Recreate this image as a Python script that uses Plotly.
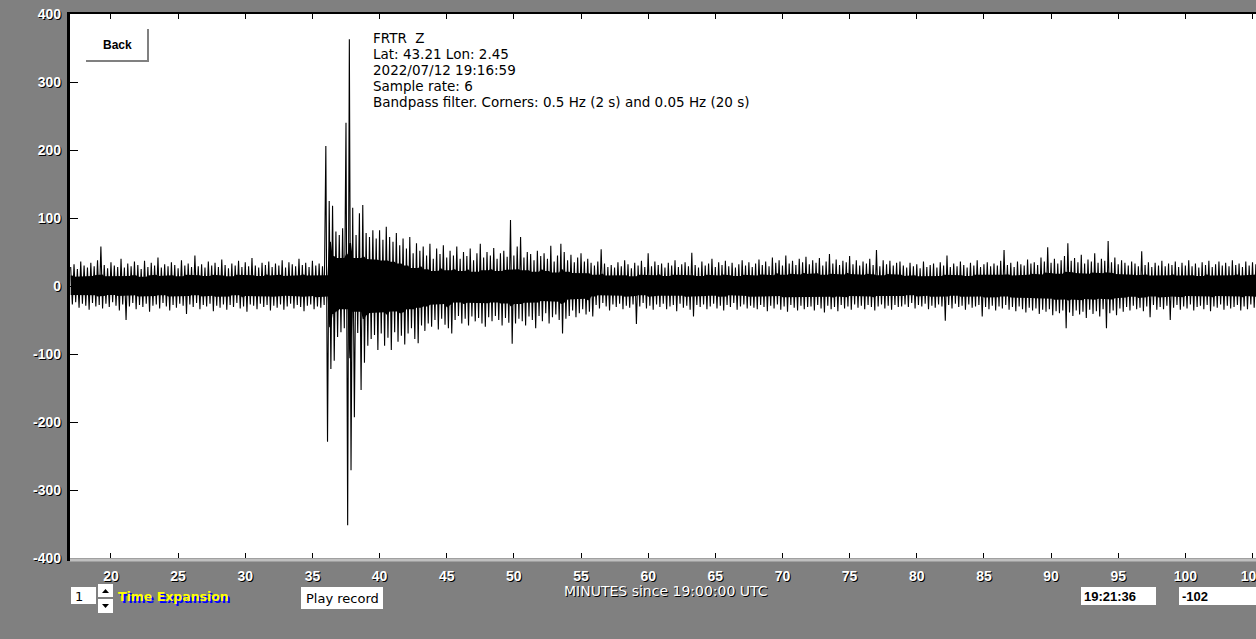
import plotly.graph_objects as go

# ---------------- data ----------------
start_minute = 17.0      # first sample window (minutes since 19:00:00 UTC)
window = 0.25            # width of each envelope window, minutes

# upper / lower extremes of the trace in each 0.25-minute window
peaks_pre = [28, 32, 25, 36, 30, 27, 34, 29, 38, 58, 31, 26, 35, 30, 28, 40, 27, 33, 29, 36,
             31, 25, 37, 28, 34, 30, 42, 27, 32, 29, 35, 31, 26, 38, 30, 33, 28, 45, 29, 32,
             27, 36, 30, 34, 28, 39, 31, 26, 33, 30, 37, 28, 35, 29, 41, 30, 27, 34, 31, 36,
             28, 33, 30, 38, 27, 35, 32, 29, 40, 31, 34, 28, 37, 30, 33, 29]
troughs_pre = [-27, -24, -32, -26, -29, -35, -25, -30, -28, -33, -26, -31, -24, -29, -36, -27, -50, -30, -25, -34,
               -28, -31, -26, -38, -29, -27, -33, -25, -30, -36, -28, -32, -26, -29, -41, -27, -31, -25, -34, -28,
               -30, -26, -37, -29, -32, -27, -35, -28, -31, -25, -33, -30, -38, -27, -29, -34, -26, -31, -28, -36,
               -29, -32, -27, -35, -30, -26, -33, -28, -31, -37, -29, -27, -34, -30, -32, -28]

peaks_event = [206, 125, 118, 80, 75, 85, 240, 363, 115, 75, 107, 119, 78, 72, 82, 70]
troughs_event = [-229, -122, -110, -75, -68, -62, -352, -271, -193, -69, -153, -113, -88, -78, -72, -94]

peaks_coda = [82, 68, 87, 72, 65, 78, 60, 70, 55, 72, 48, 63, 52, 58, 45, 62, 40, 55, 47, 60,
              42, 52, 45, 58, 40, 50, 44, 55, 38, 48, 62, 42, 50, 45, 56, 40, 48, 52, 43, 97]
troughs_coda = [-70, -88, -76, -94, -68, -82, -73, -86, -70, -62, -78, -84, -58, -66, -55, -60, -50, -64, -48, -57,
                -62, -70, -50, -44, -55, -48, -58, -45, -52, -47, -55, -60, -46, -52, -44, -50, -58, -47, -54, -85]

peaks_tail = [45, 58, 72, 42, 50, 47, 38, 52, 44, 48, 40, 59, 36, 45, 62, 50, 38, 46, 35, 42, 48, 36, 40, 34]
troughs_tail = [-55, -48, -52, -58, -45, -50, -62, -44, -52, -40, -55, -46, -42, -50, -70, -48, -44, -36, -46, -40,
                -34, -42, -38, -45]

peaks_mid = [30, 36, 54, 33, 28, 31, 27, 35, 29, 38, 32, 26, 34, 30, 37, 28,
             48, 29, 36, 31, 33, 27, 34, 30, 38, 28, 32, 35, 29, 49, 31, 27,
             36, 30, 33, 40, 28, 35, 31, 37, 29, 34, 27, 32, 38, 30, 35, 28,
             33, 39, 31, 36, 29, 42, 34, 38, 30, 45, 33, 37, 31, 40, 35, 43,
             32, 38, 34, 41, 30, 36, 47, 33, 39, 31, 37, 35, 44, 32, 38, 30,
             36, 33, 40, 31, 53, 29, 38, 32, 37, 30, 34, 36]
troughs_mid = [-28, -33, -25, -30, -36, -27, -31, -26, -34, -29, -32, -27, -56, -30, -25, -33,
               -29, -35, -27, -31, -26, -34, -30, -28, -37, -26, -32, -29, -35, -45, -28, -31,
               -27, -34, -30, -26, -33, -29, -36, -28, -31, -25, -35, -30, -27, -33, -29, -32,
               -34, -28, -31, -37, -29, -33, -27, -35, -30, -38, -28, -32, -36, -29, -34, -31,
               -30, -36, -28, -33, -39, -29, -34, -31, -37, -28, -33, -30, -35, -27, -32, -29,
               -34, -28, -31, -36, -30, -27, -33, -29, -35, -28, -31, -30]

peaks_late = [30, 27, 34, 29, 32, 26, 36, 28, 31, 33, 27, 35, 30, 45, 28, 33,
              29, 36, 31, 27, 34, 30, 38, 28, 32, 35, 29, 33, 30, 37, 53, 31,
              34, 28, 36, 32, 30, 39, 33, 35, 31, 42, 36, 57, 34, 40, 33, 38,
              44, 63, 37, 41, 35, 46, 33, 39, 36, 48, 34, 40, 37, 66, 35, 42,
              32, 38, 34, 30, 36, 33, 29, 51, 31, 35, 28, 34, 30, 37, 29, 33,
              31, 36, 28, 34, 30, 38, 29, 33, 27, 35, 31, 37, 28, 32, 36, 30,
              34, 29, 38, 31, 33, 28, 36, 30, 35, 32]
troughs_late = [-27, -31, -25, -33, -28, -30, -26, -34, -29, -32, -27, -30, -51, -28, -33, -26,
                -31, -29, -35, -27, -32, -30, -28, -45, -31, -34, -29, -36, -30, -33, -28, -35,
                -31, -37, -30, -34, -39, -32, -36, -33, -41, -35, -38, -34, -43, -37, -40, -36,
                -62, -39, -44, -36, -42, -38, -47, -35, -41, -37, -45, -34, -62, -40, -36, -43,
                -33, -38, -31, -36, -29, -34, -32, -37, -30, -46, -28, -35, -31, -34, -29, -50,
                -32, -28, -35, -30, -33, -27, -36, -31, -29, -34, -28, -37, -30, -32, -27, -35,
                -29, -33, -31, -28, -36, -30, -34, -27, -32, -29]

x_ticks = [20, 25, 30, 35, 40, 45, 50, 55, 60, 65, 70, 75, 80, 85, 90, 95, 100, 105]
y_ticks = [-400, -300, -200, -100, 0, 100, 200, 300, 400]

info_lines = ["FRTR  Z", "Lat: 43.21 Lon: 2.45", "2022/07/12 19:16:59", "Sample rate: 6",
              "Bandpass filter. Corners: 0.5 Hz (2 s) and 0.05 Hz (20 s)"]

# ---------------- build the trace ----------------
peaks = peaks_pre + peaks_event + peaks_coda + peaks_tail + peaks_mid + peaks_late
troughs = troughs_pre + troughs_event + troughs_coda + troughs_tail + troughs_mid + troughs_late
n = len(peaks)

xs, ys = [], []
for i, (p, q) in enumerate(zip(peaks, troughs)):
    t = start_minute + i * window
    xs += [t, t + window / 2]
    ys += [p, q]

# solid core of the dense trace (the densely overdrawn middle part of each window)
core_share = 0.55
core_t, core_hi, core_lo = [], [], []
for i in range(n):
    a, b = max(0, i - 1), min(n - 1, i + 1)
    core_t += [start_minute + i * window, start_minute + (i + 0.5) * window]
    hi = core_share * min(peaks[a:b + 1])
    lo = core_share * max(troughs[a:b + 1])
    core_hi += [hi, hi]
    core_lo += [lo, lo]

fig = go.Figure()
fig.add_trace(go.Scatter(x=core_t, y=core_lo, mode="lines", line=dict(color="black", width=0),
                         hoverinfo="skip", showlegend=False))
fig.add_trace(go.Scatter(x=core_t, y=core_hi, mode="lines", line=dict(color="black", width=0),
                         fill="tonexty", fillcolor="black", hoverinfo="skip", showlegend=False))
fig.add_trace(go.Scatter(x=xs, y=ys, mode="lines", line=dict(color="black", width=1.1),
                         hoverinfo="skip", showlegend=False))

# ---------------- layout ----------------
W, H = 1256, 639
L, T, R, B = 70, 14, 1256, 558


def px(x):
    return (x - L) / (R - L)


def py(y):
    return (B - y) / (B - T)


label_font = dict(family="Liberation Sans, Arial", size=14, color="white",
                  weight="bold", shadow="1px 1px 0px #000000")

fig.update_layout(
    width=W, height=H,
    margin=dict(l=L, r=W - R, t=T, b=H - B, pad=0, autoexpand=False),
    paper_bgcolor="#808080",
    plot_bgcolor="white",
    showlegend=False,
    xaxis=dict(range=[16.95, 105.26], tickvals=x_ticks, ticktext=[str(v) for v in x_ticks],
               ticks="inside", ticklen=5, tickwidth=1, tickcolor="black", mirror="ticks",
               showline=False, showgrid=False, zeroline=False, tickfont=label_font,
               ticklabelstandoff=8, ticklabeloverflow="allow", automargin=False, fixedrange=True),
    yaxis=dict(range=[-400, 400], tickvals=y_ticks, ticktext=[str(v) for v in y_ticks],
               ticks="inside", ticklen=8, tickwidth=1, tickcolor="black",
               showline=False, showgrid=False, zeroline=False, tickfont=label_font,
               ticklabelstandoff=8, ticklabeloverflow="allow", automargin=False, fixedrange=True),
)

shapes = []
# frame
shapes.append(dict(type="line", xref="paper", yref="paper", x0=px(68.5), x1=px(68.5), y0=py(561), y1=py(12),
                   line=dict(color="black", width=3), layer="above"))
shapes.append(dict(type="line", xref="paper", yref="paper", x0=px(67), x1=px(1260), y0=py(13), y1=py(13),
                   line=dict(color="black", width=2), layer="above"))
shapes.append(dict(type="line", xref="paper", yref="paper", x0=px(70), x1=px(1260), y0=py(560), y1=py(560),
                   line=dict(color="#c0c0c0", width=3), layer="above"))


def rect(x0, y0, x1, y1, fill="white", line_color=None, lw=0):
    shapes.append(dict(type="rect", xref="paper", yref="paper", x0=px(x0), x1=px(x1), y0=py(y1), y1=py(y0),
                       fillcolor=fill, line=dict(color=line_color or fill, width=lw), layer="above"))


def seg(x0, y0, x1, y1, color, w):
    shapes.append(dict(type="line", xref="paper", yref="paper", x0=px(x0), x1=px(x1), y0=py(y0), y1=py(y1),
                       line=dict(color=color, width=w), layer="above"))


# Back button
rect(86, 30, 148, 61)
seg(86, 61, 149, 61, "#808080", 2)
seg(148, 29, 148, 62, "#808080", 2)

# bottom widgets
rect(71, 587, 96, 604)                  # time expansion value box
rect(98, 584, 113, 597)                 # spin up
rect(98, 599, 113, 613)                 # spin down
shapes.append(dict(type="path", xref="paper", yref="paper", layer="above",
                   path=f"M {px(102)} {py(593)} L {px(109)} {py(593)} L {px(105.5)} {py(589)} Z",
                   fillcolor="black", line=dict(color="black", width=0)))
shapes.append(dict(type="path", xref="paper", yref="paper", layer="above",
                   path=f"M {px(102)} {py(604)} L {px(109)} {py(604)} L {px(105.5)} {py(608)} Z",
                   fillcolor="black", line=dict(color="black", width=0)))
rect(301, 587, 383, 609)                # Play record
rect(1081, 587, 1156, 605)              # time readout
rect(1179, 587, 1262, 605)              # value readout

fig.update_layout(shapes=shapes)

ann = []
FONT = "DejaVu Sans, Liberation Sans, Arial"


def text(x, y, s, size=13, color="black", anchor="left", weight="normal", shadow=None, family=FONT):
    f = dict(family=family, size=size, color=color, weight=weight)
    if shadow:
        f["shadow"] = shadow
    ann.append(dict(x=px(x), y=py(y), xref="paper", yref="paper", text=s, showarrow=False,
                    xanchor=anchor, yanchor="middle", font=f))


for k, line in enumerate(info_lines):
    text(371, 38 + k * 16, line, size=13.5)

text(117, 45, "Back", size=12, anchor="center", weight="bold", family="Liberation Sans, Arial")
text(73, 596, "1", size=13)
text(116, 596, "Time Expansion", size=12.5, color="#ffff00", weight="bold", shadow="2px 2px 0px #0000ff")
text(342, 598, "Play record", size=13, anchor="center")
text(666, 591, "MINUTES since 19:00:00 UTC", size=14, color="white", anchor="center",
     shadow="1px 1px 0px #000000")
text(1082, 596, "19:21:36", size=13, weight="bold", family="Liberation Sans, Arial")
text(1180, 596, "-102", size=13, weight="bold", family="Liberation Sans, Arial")

fig.update_layout(annotations=ann)

fig.write_html("out.html", config={"displayModeBar": False},
               post_script="document.body.style.margin='0';")
